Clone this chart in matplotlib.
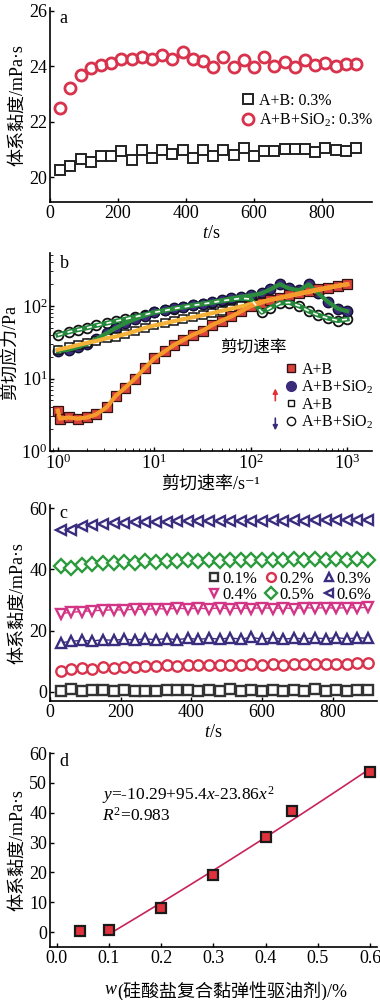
#!/usr/bin/env python
import numpy as np
import matplotlib
matplotlib.use('Agg')
import matplotlib.pyplot as plt

plt.rcParams['font.family'] = ['Liberation Serif', 'Noto Sans CJK SC', 'DejaVu Serif']
plt.rcParams['mathtext.fontset'] = 'custom'
plt.rcParams['mathtext.rm'] = 'Liberation Serif'
plt.rcParams['mathtext.it'] = 'Liberation Serif:italic'
plt.rcParams['axes.unicode_minus'] = False

# ---- panel a : viscosity vs time (0.3 %)
t_a = [30, 60, 90, 120, 150, 180, 210, 240, 270, 300, 330, 360, 390, 420, 450,
       480, 510, 540, 570, 600, 630, 660, 690, 720, 750, 780, 810, 840, 870, 900]
visc_ab = [20.24, 20.39, 20.65, 20.56, 20.75, 20.75, 20.94, 20.62, 20.98, 20.69,
           20.98, 20.84, 20.98, 20.67, 20.98, 20.75, 20.98, 20.80, 21.06, 20.75,
           20.94, 20.94, 21.00, 21.00, 21.00, 20.92, 21.06, 20.98, 20.95, 21.06]
visc_ab_si = [22.50, 23.20, 23.68, 23.92, 24.06, 24.12, 24.27, 24.25, 24.33, 24.25,
              24.39, 24.27, 24.50, 24.27, 24.19, 23.98, 24.33, 23.98, 24.21, 23.98,
              24.33, 24.00, 24.15, 23.98, 24.24, 24.04, 24.10, 24.01, 24.07, 24.07]

# ---- panel b : shear stress vs shear rate (log-log)
rate = [1, 1.3, 1.6, 2, 2.5, 3.2, 4, 5, 6.3, 8, 10, 13, 16, 20, 25, 32, 40, 50,
        63, 80, 100, 130, 160, 200, 250, 320, 400, 500, 630, 800, 1000]
rate_up_ab = [1, 1.05] + rate[1:]
stress_up_ab = [3.6, 2.8, 2.9, 2.8, 2.9, 3.2, 4.0, 5.8, 7.5, 10, 14, 19, 24, 29, 34,
                40, 46, 55, 63, 72, 85, 100, 112, 122, 130, 140, 150, 160, 170,
                180, 190, 200]
stress_up_si = [24, 25, 27, 30, 35, 42, 50, 58, 66, 74, 82, 88, 93, 98, 103, 108,
                114, 120, 128, 135, 140, 150, 170, 200, 175, 165, 200, 150, 115,
                92, 85]
stress_down_ab = [25, 27, 29, 31, 33, 36, 38, 41, 45, 50, 54, 58, 62, 66, 70, 75,
                  80, 86, 92, 99, 106, 114, 122, 130, 138, 148, 157, 167, 178,
                  190, 200]
stress_down_si = [40, 44, 47, 50, 54, 58, 62, 66, 71, 76, 82, 87, 92, 97, 102, 107,
                  112, 118, 123, 128, 125, 82, 95, 110, 112, 100, 85, 75, 68, 63, 66]

# ---- panel c : viscosity vs time at several concentrations
conc_labels = ['0.1%', '0.2%', '0.3%', '0.4%', '0.5%', '0.6%']
visc_c = {
    '0.1%': [0.4, 0.8, 0.4, 0.5, 0.5, 0.4, 0.5, 0.4, 0.4, 0.3, 0.7, 0.5, 0.6, 0.3, 0.7,
             0.4, 0.8, 0.3, 0.6, 0.3, 0.7, 0.2, 0.6, 0.4, 0.9, 0.3, 0.7, 0.3, 0.7, 0.5],
    '0.2%': [6.9, 7.3, 7.8, 7.6, 8.0, 7.9, 8.2, 8.0, 8.4, 8.3, 8.6, 8.4, 8.7, 8.6, 8.9,
             8.7, 8.9, 8.8, 9.0, 8.9, 9.0, 8.9, 9.1, 9.0, 9.2, 9.0, 9.2, 9.0, 9.3, 9.3],
    '0.3%': [16.0, 16.5, 16.8, 16.6, 17.0, 16.8, 17.2, 16.9, 17.3, 17.0, 17.4, 17.0,
             17.5, 17.1, 17.5, 17.2, 17.6, 17.2, 17.8, 17.2, 17.6, 17.2, 17.5, 17.3,
             17.6, 17.3, 17.7, 17.3, 17.6, 17.5],
    '0.4%': [25.5, 26.0, 26.2, 26.5, 26.6, 26.8, 26.7, 27.0, 26.9, 27.2, 27.0, 27.3,
             27.1, 27.3, 27.1, 27.4, 27.1, 27.4, 27.2, 27.5, 27.2, 27.4, 27.2, 27.5,
             27.3, 27.5, 27.3, 27.5, 27.4, 27.6],
    '0.5%': [41.0, 40.3, 41.3, 41.6, 42.0, 41.9, 42.4, 42.2, 42.6, 42.4, 42.8, 42.6,
             43.0, 42.8, 43.0, 42.8, 43.1, 42.9, 43.2, 42.9, 43.2, 43.0, 43.3, 43.0,
             43.3, 43.0, 43.4, 43.1, 43.3, 43.2],
    '0.6%': [53.0, 53.0, 54.0, 54.5, 54.8, 55.0, 55.2, 55.4, 55.5, 55.6, 55.6, 55.7,
             55.7, 55.8, 55.8, 55.8, 55.9, 55.8, 55.9, 55.9, 56.0, 55.9, 56.0, 55.9,
             56.0, 56.0, 56.0, 56.0, 56.1, 56.0],
}
conc_markers = ['s', 'o', '^', 'v', 'D', '<']
conc_colors = ['#333333', '#d8324c', '#3b2d7e', '#d23585', '#2b9a3d', '#3b2d7e']

# ---- panel d : viscosity vs dosage
dose = [0.045, 0.1, 0.2, 0.3, 0.4, 0.45, 0.6]
visc_d = [0.5, 0.8, 8.0, 19.0, 32.0, 40.5, 53.5]

TICK = 13
fig = plt.figure(figsize=(3.8, 10), dpi=100)


def style(ax):
    for s in ['top', 'right']:
        ax.spines[s].set_visible(False)
    for s in ['left', 'bottom']:
        ax.spines[s].set_linewidth(1.2)
    ax.tick_params(direction='in', labelsize=TICK, length=3, width=1, pad=2)
    ax.tick_params(which='minor', direction='in', length=2)


ylab = '体系黏度/mPa·s'

# panel a
ax = fig.add_axes([0.1316, 0.798, 0.847, 0.194])
style(ax)
ax.plot(t_a, visc_ab, 's', ms=6.5, mfc='none', mec='#222222', mew=1.4,
        label='A+B: 0.3%')
ax.plot(t_a, visc_ab_si, 'o', ms=8, mfc='none', mec='#d8324c', mew=2,
        label='A+B+SiO$_2$: 0.3%')
ax.set_xlim(0, 947)
ax.set_ylim(19.1, 26.1)
ax.set_yticks([20, 22, 24, 26])
ax.set_xticks([0, 200, 400, 600, 800])
ax.set_xlabel('$t$/s', fontsize=TICK, labelpad=2)
ax.set_ylabel(ylab, fontsize=TICK, labelpad=2)
ax.text(0.03, 0.99, 'a', transform=ax.transAxes, fontsize=TICK, va='top')
ax.legend(loc='center right', bbox_to_anchor=(1.03, 0.47), fontsize=11.5, frameon=False,
          handlelength=0.8, handletextpad=0.3, labelspacing=0.15, borderpad=0)

# panel b
ax = fig.add_axes([0.1316, 0.549, 0.847, 0.198])
style(ax)
ax.set_xscale('log')
ax.set_yscale('log')
ax.plot(rate, stress_down_si, 'o', ms=7, mfc='white', mec='#111111', mew=1.3, zorder=2)
ax.plot(rate, stress_down_si, '-', color='#23883a', lw=3.5, zorder=3)
ax.plot(rate, stress_down_si, '--', color='white', lw=1.2, dashes=(3, 3), zorder=4)
ax.plot(rate, stress_up_si, 'o', ms=7.5, color='#3a2a7a', mec='#111133', zorder=2)
ax.plot(rate, stress_up_si, '-', color='#2a8c3c', lw=3, zorder=3)
ax.plot(rate, stress_down_ab, 's', ms=6, mfc='white', mec='#111111', mew=1.1, zorder=2)
ax.plot(rate, stress_down_ab, '-', color='#f3b23a', lw=3, zorder=3)
ax.plot(rate_up_ab, stress_up_ab, 's', ms=6.5, color='#d8443c', mec='#331111',
        mew=0.9, zorder=2)
ax.plot(rate_up_ab, stress_up_ab, '-', color='#f59a2a', lw=3, zorder=3)
ax.set_xlim(0.83, 1800)
ax.set_ylim(1, 540)
ax.set_xlabel('剪切速率/s⁻¹', fontsize=TICK, labelpad=2)
ax.set_ylabel('剪切应力/Pa', fontsize=TICK, labelpad=2)
ax.text(0.03, 0.99, 'b', transform=ax.transAxes, fontsize=TICK, va='top')
ax.text(0.53, 0.5, '剪切速率', transform=ax.transAxes, fontsize=12)
h1, = ax.plot([], [], 's', ms=6, color='#d8443c', mec='#331111')
h2, = ax.plot([], [], 'o', ms=7, color='#3a2a7a')
h3, = ax.plot([], [], 's', ms=5, mfc='white', mec='#111111')
h4, = ax.plot([], [], 'o', ms=6, mfc='white', mec='#111111')
ax.legend([h1, h2, h3, h4], ['A+B', 'A+B+SiO$_2$', 'A+B', 'A+B+SiO$_2$'],
          loc='lower right', bbox_to_anchor=(1.03, 0.06), fontsize=11.5, frameon=False,
          handlelength=0.7, handletextpad=0.3, labelspacing=0.05, borderpad=0)
ax.annotate('', xy=(0.70, 0.33), xytext=(0.70, 0.24), xycoords='axes fraction',
            arrowprops=dict(arrowstyle='-|>', color='#e0303a', lw=1.2, mutation_scale=7))
ax.annotate('', xy=(0.70, 0.09), xytext=(0.70, 0.18), xycoords='axes fraction',
            arrowprops=dict(arrowstyle='-|>', color='#3a2a7a', lw=1.2, mutation_scale=7))

# panel c
ax = fig.add_axes([0.1316, 0.299, 0.86, 0.196])
style(ax)
handles = []
for lab, mk, col in zip(conc_labels, conc_markers, conc_colors):
    ax.plot(t_a, visc_c[lab], '-', color=col, lw=1)
    h, = ax.plot(t_a, visc_c[lab], mk, ms=7.5, mfc='white', mec=col, mew=1.7, label=lab)
    handles.append(h)
ax.set_xlim(0, 925)
ax.set_ylim(-3, 61)
ax.set_yticks([0, 20, 40, 60])
ax.set_xticks([0, 200, 400, 600, 800])
ax.set_xlabel('$t$/s', fontsize=TICK, labelpad=2)
ax.set_ylabel(ylab, fontsize=TICK, labelpad=2)
ax.text(0.03, 1.0, 'c', transform=ax.transAxes, fontsize=TICK, va='top')
order = [0, 3, 1, 4, 2, 5]
ax.legend([handles[i] for i in order], [conc_labels[i] for i in order], ncol=3,
          loc='upper right', bbox_to_anchor=(1.01, 0.705), fontsize=12, frameon=False,
          handlelength=0.7, handletextpad=0.15, columnspacing=0.5, labelspacing=0.0,
          borderpad=0, markerscale=0.85)

# panel d
ax = fig.add_axes([0.1316, 0.053, 0.86, 0.194])
style(ax)
fit_x = np.array(dose[1:])
coef = np.polyfit(fit_x, visc_d[1:], 2)
xx = np.linspace(0.105, 0.6, 50)
ax.plot(xx, np.polyval(coef, xx), '-', color='#c8245a', lw=1.2)
ax.plot(dose, visc_d, 's', ms=7.5, color='#e0323c', mec='#1a1a1a', mew=1.6)
ax.set_xlim(-0.013, 0.613)
ax.set_ylim(-5, 60)
ax.set_yticks([0, 10, 20, 30, 40, 50, 60])
ax.set_xticks([0.0, 0.1, 0.2, 0.3, 0.4, 0.5, 0.6])
ax.set_xticklabels(['0.0', '0.1', '0.2', '0.3', '0.4', '0.5', '0.6'])
ax.text(0.205, -0.175, 'w', transform=ax.transAxes, fontsize=TICK, style='italic',
        ha='right', va='top')
ax.text(0.205, -0.175, '(硅酸盐复合黏弹性驱油剂)/%', transform=ax.transAxes,
        fontsize=TICK, ha='left', va='top')
ax.set_ylabel(ylab, fontsize=TICK, labelpad=2)
ax.text(0.03, 1.0, 'd', transform=ax.transAxes, fontsize=TICK, va='top')
ax.text(0.16, 0.76, '$y$=-10.29+95.4$x$-23.86$x^2$', transform=ax.transAxes, fontsize=12.5)
ax.text(0.16, 0.65, '$R^2$=0.983', transform=ax.transAxes, fontsize=12.5)

fig.savefig('out.png', dpi=100)
